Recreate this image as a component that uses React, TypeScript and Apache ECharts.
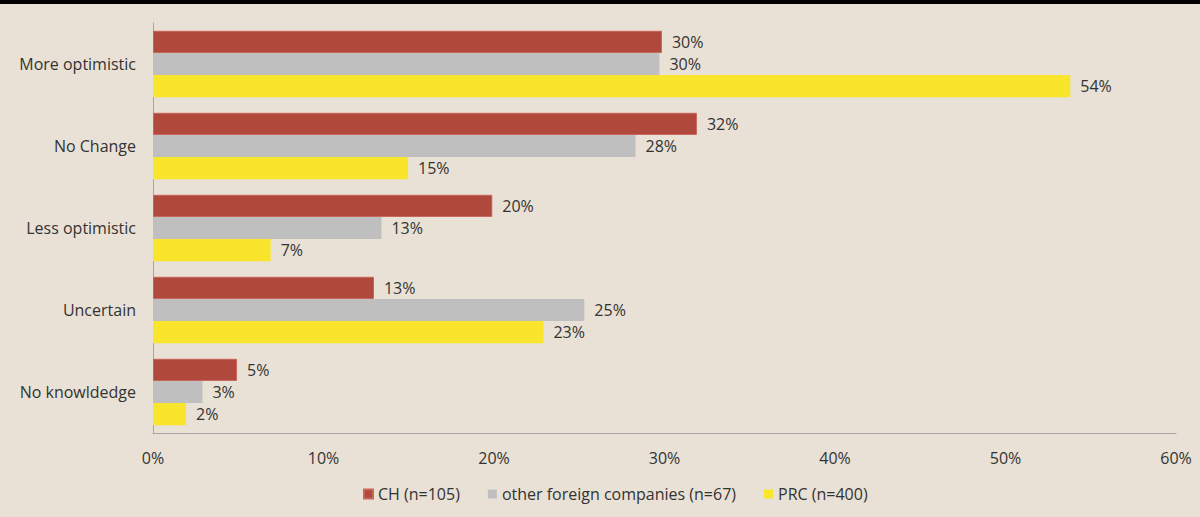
import React, { useEffect, useRef } from "react";
import * as echarts from "echarts";

const categories = ["More optimistic", "No Change", "Less optimistic", "Uncertain", "No knowldedge"];
const seriesNames = ["CH (n=105)", "other foreign companies (n=67)", "PRC (n=400)"];
const chValues = [29.85, 31.9, 19.9, 12.96, 4.93];
const otherValues = [29.7, 28.3, 13.4, 25.3, 2.9];
const prcValues = [53.8, 14.96, 6.9, 22.9, 1.94];
const xTicks = [0, 10, 20, 30, 40, 50, 60];

const colors = ["#B0483C", "#BFBFBF", "#F9E52C"];
const borders = ["#C8645A", "#BFBFBF", "#F9E52C"];

export default function App() {
  const ref = useRef<HTMLDivElement>(null);
  useEffect(() => {
    if (!ref.current) return;
    const chart = echarts.init(ref.current, undefined, { renderer: "svg" });
    const font = "'Open Sans', 'Noto Sans', sans-serif";
    const data = [chValues, otherValues, prcValues];
    chart.setOption({
      animation: false,
      backgroundColor: "#E9E1D5",
      textStyle: { fontFamily: font },
      graphic: [
        { type: "rect", left: 0, top: 0, shape: { width: 1200, height: 4 }, style: { fill: "#000" } },
      ],
      grid: { left: 153, right: 24, top: 23, bottom: 84, containLabel: false },
      legend: {
        bottom: 10,
        left: 358,
        itemWidth: 9,
        itemHeight: 9,
        itemGap: 28,
        icon: "rect",
        textStyle: { fontSize: 16, color: "#333", fontFamily: font },
        data: seriesNames,
      },
      xAxis: {
        type: "value",
        min: xTicks[0],
        max: xTicks[xTicks.length - 1],
        interval: 10,
        axisLine: { show: true, lineStyle: { color: "#A6A6A6" } },
        axisTick: { show: false },
        splitLine: { show: false },
        axisLabel: { formatter: (v: number) => v + "%", fontSize: 16, color: "#333", margin: 17, fontFamily: font },
      },
      yAxis: {
        type: "category",
        inverse: true,
        data: categories,
        axisLine: { show: true, lineStyle: { color: "#A6A6A6" } },
        axisTick: { show: false },
        axisLabel: { fontSize: 16, color: "#333", margin: 17, fontFamily: font },
      },
      series: seriesNames.map((name, i) => ({
        name,
        type: "bar",
        data: data[i],
        barGap: "0%",
        barCategoryGap: "19%",
        itemStyle: { color: colors[i], borderColor: borders[i], borderWidth: i === 0 ? 1 : 0 },
        label: {
          show: true,
          position: "right",
          distance: 10,
          formatter: (p: any) => Math.round(p.value) + "%",
          fontSize: 16,
          color: "#333",
          fontFamily: font,
        },
      })),
    });
    return () => chart.dispose();
  }, []);
  return <div ref={ref} style={{ position: "fixed", left: 0, top: 0, width: 1200, height: 517 }} />;
}
